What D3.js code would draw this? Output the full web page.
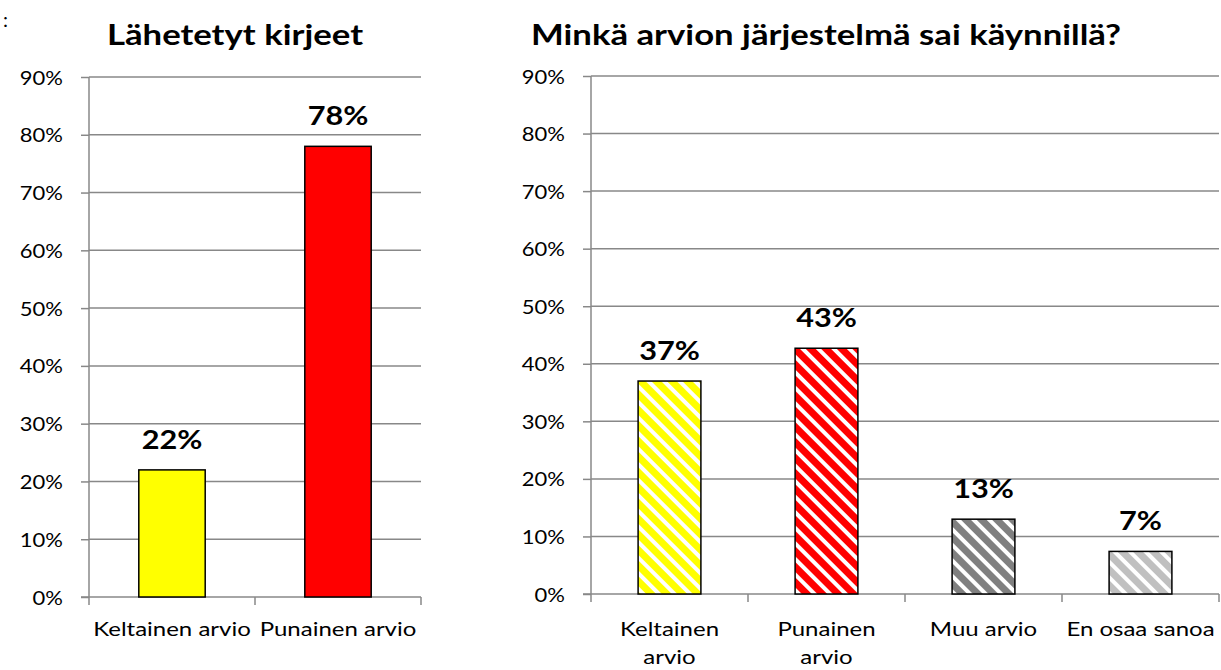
<!DOCTYPE html>
<html>
<head>
<meta charset="utf-8">
<script src="https://cdn.jsdelivr.net/npm/d3@7"></script>
<style>
  body { margin: 0; background: #fff; }
  svg { display: block; font-family: Lato, "Open Sans", sans-serif; }
</style>
</head>
<body>
<script>

// data
var leftTitle = "Lähetetyt kirjeet";
var leftCats = ["Keltainen arvio", "Punainen arvio"];
var leftVals = [0.22, 0.78];
var leftLabels = ["22%", "78%"];
var leftColors = ["#ffff00", "#ff0000"];

var rightTitle = "Minkä arvion järjestelmä sai käynnillä?";
var rightCats = [["Keltainen", "arvio"], ["Punainen", "arvio"], ["Muu arvio"], ["En osaa sanoa"]];
var rightVals = [0.37, 0.427, 0.13, 0.074];
var rightLabels = ["37%", "43%", "13%", "7%"];
var rightColors = ["#ffff00", "#ff0000", "#808080", "#c0c0c0"];

var yTicks = [0, 0.1, 0.2, 0.3, 0.4, 0.5, 0.6, 0.7, 0.8, 0.9];

var W = 1221, H = 670;
var svg = d3.select("body").append("svg").attr("width", W).attr("height", H);

// put text at x,y and stretch it sideways (original font is wider than Lato)
function stretched(parent, x, y, sx){
  return parent.append("text").attr("transform", "translate(" + x + "," + y + ") scale(" + sx + ",1)");
}

// stray mark top-left
svg.append("text").attr("x", 3).attr("y", 27).attr("font-size", "20px").attr("fill", "#000").text(":");

// stripe patterns
var defs = svg.append("defs");
rightColors.forEach(function(c, i){
  var p = defs.append("pattern")
    .attr("id", "stripe" + i)
    .attr("patternUnits", "userSpaceOnUse")
    .attr("width", 11).attr("height", 11)
    .attr("patternTransform", "rotate(-45)");
  p.append("rect").attr("width", 11).attr("height", 11).attr("fill", c);
  p.append("rect").attr("x", 0).attr("width", 4).attr("height", 11).attr("fill", "#fff");
});

function drawChart(opt){
  var g = svg.append("g");
  var x = d3.scaleBand().domain(d3.range(opt.vals.length)).range([opt.x0, opt.x1]);
  var y = d3.scaleLinear().domain([0, 0.9]).range([opt.y0, opt.y1]);

  // gridlines
  g.selectAll(".grid").data(yTicks.slice(1)).enter().append("line")
    .attr("x1", opt.x0).attr("x2", opt.x1)
    .attr("y1", function(d){ return y(d); }).attr("y2", function(d){ return y(d); })
    .attr("stroke", "#888").attr("stroke-width", 1.5);

  // y axis
  var yAxis = d3.axisLeft(y).tickValues(yTicks).tickFormat(d3.format(".0%")).tickSize(8).tickPadding(0);
  var ya = g.append("g").attr("transform", "translate(" + opt.x0 + ",0)").call(yAxis);
  ya.select(".domain").attr("stroke", "#888").attr("stroke-width", 1.5).attr("d", "M0," + opt.y0 + "V" + opt.y1);
  ya.selectAll(".tick line").attr("stroke", "#888").attr("stroke-width", 1.5);
  ya.selectAll(".tick text")
    .attr("x", null).attr("dy", null)
    .attr("transform", "translate(-26,7) scale(1.1,1)")
    .attr("font-size", "20px").attr("fill", "#000").attr("font-family", "Lato, sans-serif");

  // x axis baseline + ticks at category boundaries
  g.append("line").attr("x1", opt.x0 - 8).attr("x2", opt.x1)
    .attr("y1", opt.y0).attr("y2", opt.y0).attr("stroke", "#888").attr("stroke-width", 1.5);
  var bounds = d3.range(opt.vals.length + 1).map(function(i){ return opt.x0 + i * x.step(); });
  g.selectAll(".xt").data(bounds).enter().append("line")
    .attr("x1", function(d){ return d; }).attr("x2", function(d){ return d; })
    .attr("y1", opt.y0).attr("y2", opt.y0 + 8)
    .attr("stroke", "#888").attr("stroke-width", 1.5);

  // bars
  var bw = x.bandwidth() * 0.4;
  g.selectAll(".bar").data(opt.vals).enter().append("rect")
    .attr("x", function(d, i){ return x(i) + (x.bandwidth() - bw) / 2; })
    .attr("y", function(d){ return y(d); })
    .attr("width", bw)
    .attr("height", function(d){ return y(0) - y(d); })
    .attr("fill", function(d, i){ return opt.fills[i]; })
    .attr("stroke", "#000").attr("stroke-width", 1.5);

  // value labels
  opt.vals.forEach(function(v, i){
    stretched(g, x(i) + x.bandwidth() / 2, y(v) - 21, 1.18)
      .attr("text-anchor", "middle")
      .attr("font-size", "26px").attr("font-weight", "bold")
      .text(opt.labels[i]);
  });

  // category labels
  opt.cats.forEach(function(d, i){
    var t = stretched(g, x(i) + x.bandwidth() / 2, 636, 1.2)
      .attr("text-anchor", "middle")
      .attr("font-size", "20px");
    var lines = Array.isArray(d) ? d : [d];
    lines.forEach(function(s, k){
      t.append("tspan").attr("x", 0).attr("dy", k ? 28 : 0).text(s);
    });
  });

  // title
  stretched(g, opt.tx, 45, 1.24)
    .attr("text-anchor", "middle").attr("font-size", "28px").attr("font-weight", "bold")
    .text(opt.title);
}

drawChart({
  x0: 89, x1: 421, y0: 597, y1: 77,
  vals: leftVals, labels: leftLabels, cats: leftCats,
  fills: leftColors, title: leftTitle, tx: 235
});

drawChart({
  x0: 591, x1: 1219, y0: 594, y1: 76,
  vals: rightVals, labels: rightLabels, cats: rightCats,
  fills: rightColors.map(function(c, i){ return "url(#stripe" + i + ")"; }),
  title: rightTitle, tx: 826
});

</script>
</body>
</html>
